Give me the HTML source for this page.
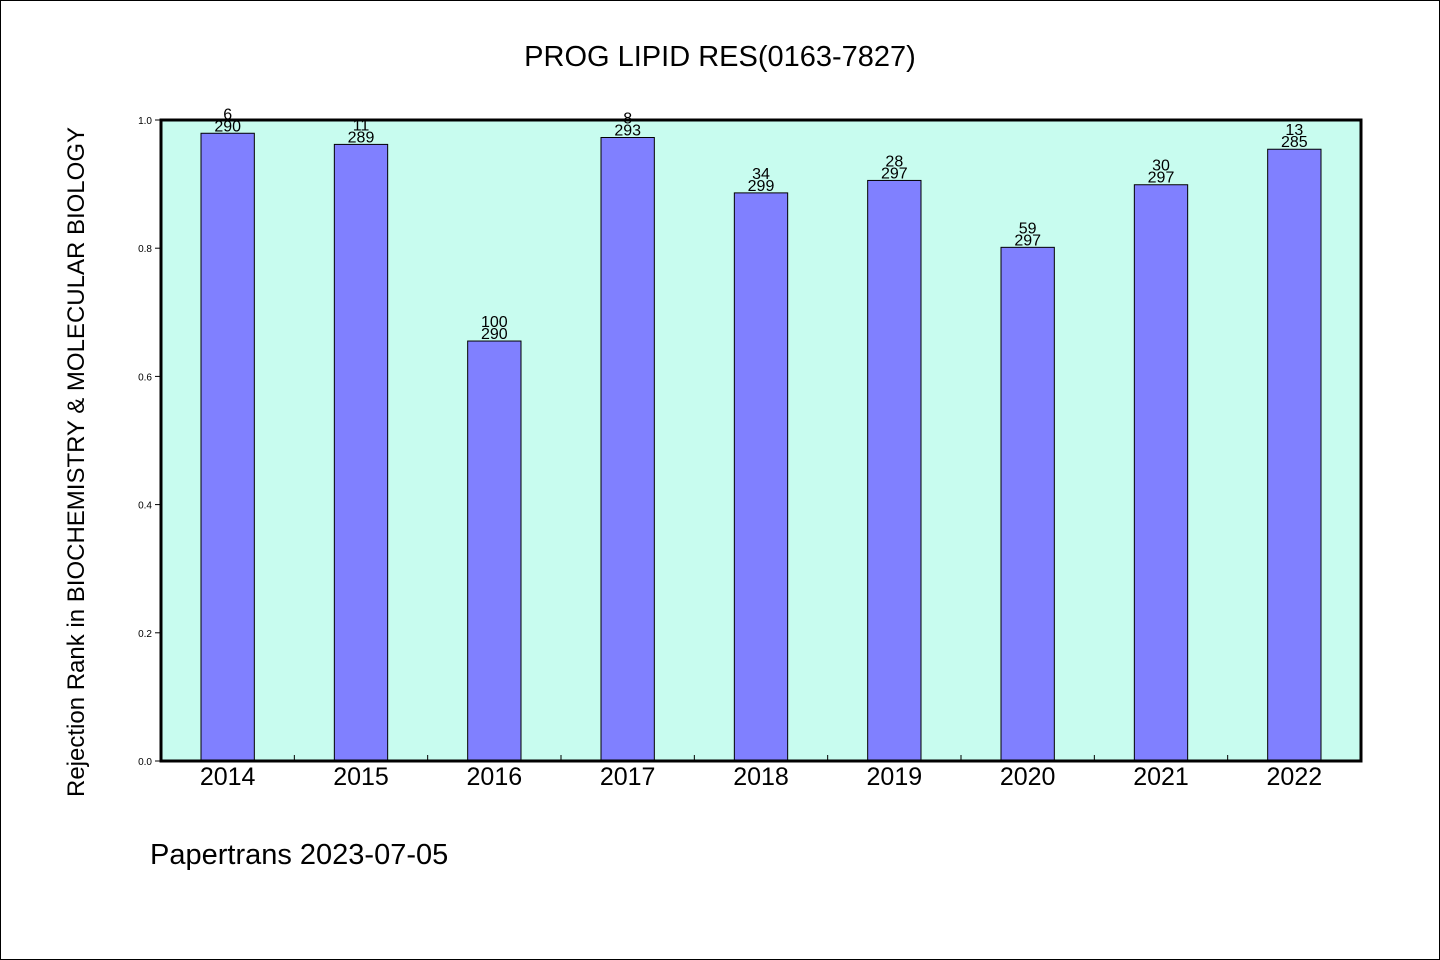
<!DOCTYPE html>
<html><head><meta charset="utf-8"><style>
body{margin:0;background:#fff}
svg{display:block;font-family:"WenQuanYi Zen Hei","Liberation Sans",sans-serif}
</style></head><body>
<svg id="chart" width="1440" height="960">
<rect x="0.5" y="0.5" width="1439" height="959" fill="#fff" stroke="#000"/>
<text x="720" y="66" text-anchor="middle" font-size="29">PROG LIPID RES(0163-7827)</text>
<rect x="161" y="120" width="1200" height="641" fill="#c8fcef"/>
<g id="marks"></g>
<rect x="161" y="120" width="1200" height="641" fill="none" stroke="#000" stroke-width="3"/>
<text transform="translate(84,462) rotate(-90)" text-anchor="middle" font-size="24">Rejection Rank in BIOCHEMISTRY &amp; MOLECULAR BIOLOGY</text>
<text x="150" y="864" font-size="29">Papertrans 2023-07-05</text>
</svg>
<script>
const years=["2014","2015","2016","2017","2018","2019","2020","2021","2022"];
const ranks=[6,11,100,8,34,28,59,30,13];
const totals=[290,289,290,293,299,297,297,297,285];
const yTicks=["0.0","0.2","0.4","0.6","0.8","1.0"];
const X0=161,W=1200,Y0=761,H=641;
const band=W/years.length;
const xc=i=>X0+band*(i+0.5);
const y=v=>Y0-v*H;
const g=document.getElementById('marks');
const NS="http://www.w3.org/2000/svg";
function mk(t,a){const e=document.createElementNS(NS,t);for(const k in a)e.setAttribute(k,a[k]);g.appendChild(e);return e;}
yTicks.forEach(t=>{const v=parseFloat(t);
 const l=mk('line',{x1:X0-6,x2:X0,y1:y(v),y2:y(v),stroke:'#000'});
 
 
 const tx=mk('text',{x:X0-9,y:y(v)+4,'text-anchor':'end','font-size':10});
 tx.textContent=t;
 
 
});
for(let i=1;i<years.length;i++){const xx=X0+band*i;
 const l=mk('line',{x1:xx,x2:xx,y1:Y0-6,y2:Y0,stroke:'#000'});
 
 
}
const bw=band*0.4;
years.forEach((yr,i)=>{
 const v=1-ranks[i]/totals[i];
 const b=mk('rect',{x:xc(i)-bw/2,y:y(v),width:bw,height:Y0-y(v),fill:'#8080ff',stroke:'#000','stroke-width':1});
 
 
 const t1=mk('text',{x:xc(i),y:y(v)-14,'text-anchor':'middle','font-size':16});
 t1.textContent=ranks[i];
 
 
 const t2=mk('text',{x:xc(i),y:y(v)-2,'text-anchor':'middle','font-size':16});
 t2.textContent=totals[i];
 
 
 const xl=mk('text',{x:xc(i),y:785,'text-anchor':'middle','font-size':25});
 xl.textContent=yr;
 
 
});
</script>
</body></html>
